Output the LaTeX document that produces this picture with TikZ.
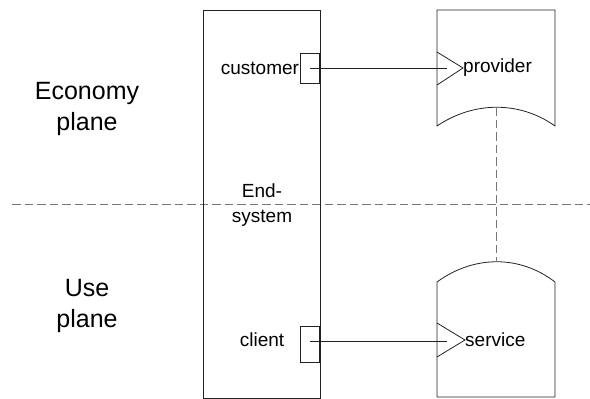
\documentclass[tikz,border=0pt]{standalone}
\usepackage{fontspec}
\setmainfont{Liberation Sans}
\usetikzlibrary{positioning,calc}
\definecolor{fline}{HTML}{222222}
\definecolor{fdash}{HTML}{777777}

\begin{document}
\begin{tikzpicture}[x=1pt,y=-1pt,
  lbl/.style={inner sep=0pt,font=\fontsize{19}{23}\selectfont},
  plane/.style={inner sep=0pt,align=center,font=\fontsize{25}{31}\selectfont},
  port/.style={draw=fline,line width=0.8pt,minimum width=19pt,minimum height=30pt,inner sep=0pt},
  sep/.style={fdash,line width=0.8pt,dash pattern=on 8.5pt off 4pt}]
\useasboundingbox (0,0) rectangle (590,399);
% the planes
\node[plane] (econ) at (87,109) {Economy\\plane};
\node[plane] (use) at (87,306) {Use\\plane};
\coordinate (sepL) at (12,204);
\coordinate (sepR) at (590,204);
\draw[sep] (sepL) -- (sepR);
% end-system
\draw[fline,line width=0.8pt] (203,10) rectangle (320,398);
\node[lbl,align=center,font=\fontsize{19}{25}\selectfont] (endsys) at (262,205) {End-\\system};
\node[port,anchor=east] (custport) at (320,68) {};
\node[port,anchor=east,minimum height=36pt] (cliport) at (320,344) {};
\node[lbl,left=1pt of custport] (cust) {customer};
\node[lbl] (cli) at (262,340) {client};
% provider and service
\draw[fline,line width=0.8pt] (437,10) -- (555,10) -- (555,126)
  .. controls (520,101) and (474,101) .. (437,126) -- cycle;
\draw[fline,line width=0.8pt] (437,397) -- (437,282)
  .. controls (474,255) and (520,255) .. (555,282) -- (555,397) -- cycle;
\draw[fline,line width=0.8pt] (437,52) -- (463,68) -- (437,85);
\draw[fline,line width=0.8pt] (437,323) -- (465,340) -- (437,357);
\node[lbl,anchor=west] (prov) at (463,68) {provider};
\node[lbl,anchor=west] (serv) at (465,340) {service};
\coordinate (provin) at (447,68);
\coordinate (servin) at (447,341);
\coordinate (provbot) at (496,107);
\coordinate (servtop) at (496,262);
% the connectors
\draw[fline,line width=0.6pt] (custport.center) -- (provin);
\draw[fline,line width=0.6pt] ($(cliport.center)+(0,-3)$) -- (servin);
\draw[sep] (provbot) -- (servtop);
\end{tikzpicture}
\end{document}
